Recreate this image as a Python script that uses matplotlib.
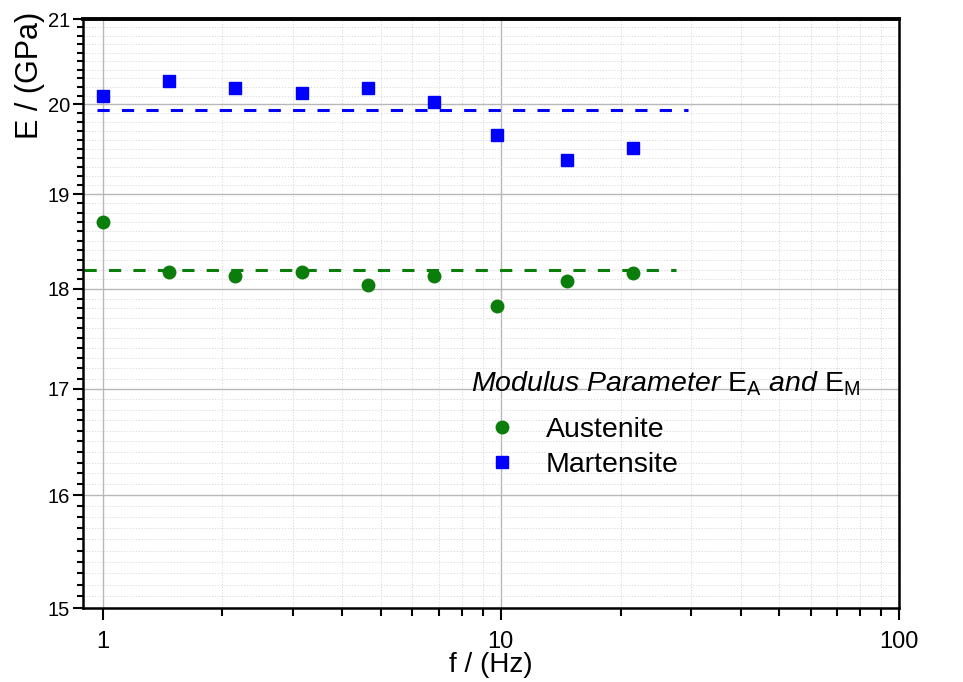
import numpy as np
import matplotlib
matplotlib.use("Agg")
import matplotlib.pyplot as plt
from matplotlib.ticker import FixedLocator, NullFormatter, FixedFormatter

plt.rcParams['font.family'] = ['Liberation Sans', 'DejaVu Sans']
plt.rcParams['mathtext.fontset'] = 'custom'
plt.rcParams['mathtext.rm'] = 'Liberation Sans'
plt.rcParams['mathtext.it'] = 'Liberation Sans:italic'

# frequencies (Hz)
freq = [1.0, 1.47, 2.15, 3.16, 4.64, 6.81, 9.8, 14.7, 21.5]
# modulus values (GPa)
E_austenite = [18.70, 18.17, 18.13, 18.17, 18.04, 18.13, 17.82, 18.08, 18.16]
E_martensite = [20.10, 20.27, 20.19, 20.13, 20.19, 20.03, 19.65, 19.38, 19.51]
# mean lines
mean_aus_x = [0.9, 27.5]
mean_aus_y = [18.2, 18.2]
mean_mar_x = [0.97, 29.5]
mean_mar_y = [19.94, 19.94]

yticks = [15, 16, 17, 18, 19, 20, 21]
xticks = [1, 10, 100]

green = '#0a7d0a'
blue = '#0000ff'

fig = plt.figure(figsize=(9.63, 6.82), dpi=100)
ax = fig.add_axes([0.0862, 0.1085, 0.8474, 0.8636])

ax.set_xscale('log')
ax.set_yscale('log')
ax.set_xlim(0.893, 100)
ax.set_ylim(15, 21)

# grid
ax.grid(which='major', color='#b8b8b8', lw=1.0, ls='-', zorder=0)
ax.grid(which='minor', color='#d6d6d6', lw=0.6, ls=(0, (1.5, 2)), zorder=0)

ax.plot(mean_mar_x, mean_mar_y, color=blue, lw=2.2, ls=(0, (4, 4)), zorder=2)
ax.plot(mean_aus_x, mean_aus_y, color=green, lw=2.2, ls=(0, (4, 4)), zorder=2)
ax.plot(freq, E_austenite, 'o', color=green, ms=9, mec=green, zorder=3,
        label='Austenite')
ax.plot(freq, E_martensite, 's', color=blue, ms=8.5, mec=blue, zorder=3,
        label='Martensite')

# ticks
ax.yaxis.set_major_locator(FixedLocator(yticks))
ax.yaxis.set_major_formatter(FixedFormatter([str(t) for t in yticks]))
ax.yaxis.set_minor_locator(FixedLocator(np.arange(15.1, 21.0, 0.1)))
ax.yaxis.set_minor_formatter(NullFormatter())
ax.xaxis.set_major_locator(FixedLocator(xticks))
ax.xaxis.set_major_formatter(FixedFormatter([str(t) for t in xticks]))
minx = [m * d for d in (1, 10) for m in range(2, 10)]
ax.xaxis.set_minor_locator(FixedLocator(minx))
ax.xaxis.set_minor_formatter(NullFormatter())

ax.tick_params(axis='y', which='major', direction='out', length=7.5, width=1.5,
               labelsize=14.5, pad=2)
ax.tick_params(axis='y', which='minor', direction='out', length=4.5, width=1.5)
ax.tick_params(axis='x', which='major', direction='out', length=8.5, width=1.5,
               labelsize=17, pad=8)
ax.tick_params(axis='x', which='minor', direction='out', length=5.5, width=1.5)

for side in ['left', 'bottom', 'right']:
    ax.spines[side].set_linewidth(1.8)
ax.spines['top'].set_linewidth(2.8)

ax.set_xlabel('f / (Hz)', fontsize=20, labelpad=-1)
ax.set_ylabel('E / (GPa)', fontsize=22)
ax.yaxis.set_label_coords(-0.047, 0.905)

title = r'$\mathit{Modulus\ Parameter}$ E$_\mathrm{A}$ $\mathit{and}$ E$_\mathrm{M}$'
leg = ax.legend(title=title, loc='upper left', bbox_to_anchor=(0.461, 0.4245),
                frameon=False, fontsize=20.5, title_fontsize=20.5,
                handletextpad=0.45, borderaxespad=0, labelspacing=0.3,
                handlelength=2.2)
leg._legend_box.align = 'left'
leg._legend_box.sep = 14

fig.savefig('out.png', dpi=100)
